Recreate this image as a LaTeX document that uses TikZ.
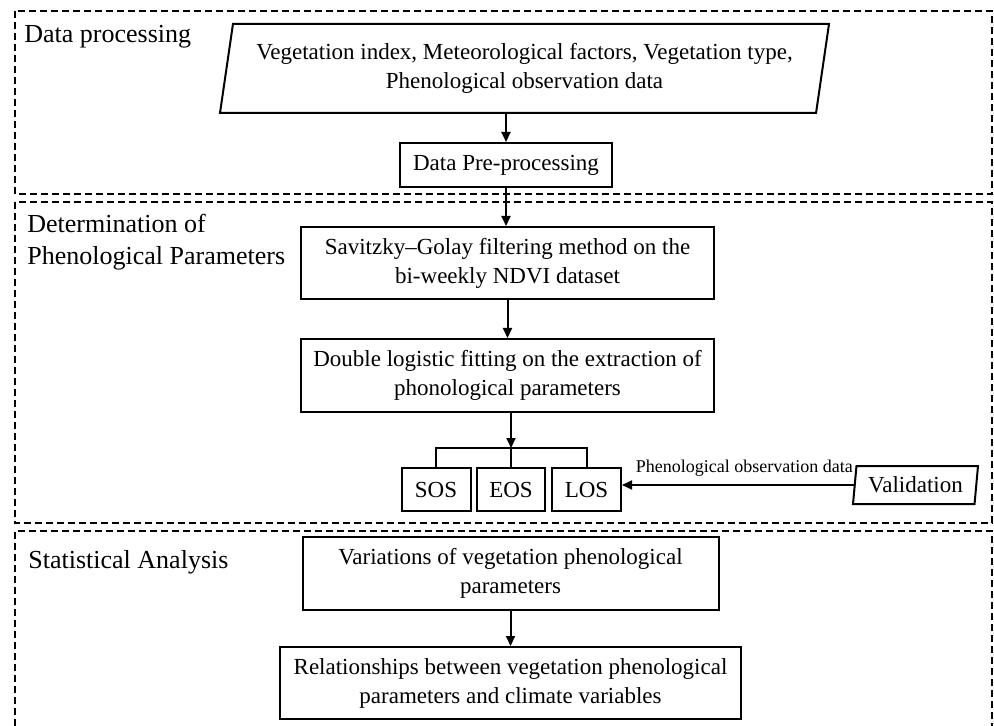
\documentclass[tikz,border=0pt]{standalone}
\usepackage{fontspec}
\setmainfont{Liberation Serif}
\usetikzlibrary{arrows.meta, positioning, shapes.geometric}

\newcommand{\boxfont}{\fontsize{11.5pt}{14.5pt}\selectfont}
\newcommand{\partfont}{\fontsize{13pt}{16pt}\selectfont}

\begin{document}
\begin{tikzpicture}[x=0.5pt,y=-0.5pt,on grid,
    >={Triangle[length=5pt,width=4.5pt]},
    flow/.style={->,line width=1pt},
    frame/.style={line width=0.6pt,dash pattern=on 3.5pt off 2pt}]
  \tikzstyle{procbox}=[rectangle,draw,line width=1pt,align=center,inner sep=0pt,font=\boxfont]
  \tikzstyle{databox}=[trapezium,trapezium stretches body,draw,line width=1pt,align=center,inner sep=0pt,font=\boxfont]
  \tikzstyle{part}=[anchor=west,align=left,inner sep=0pt,font=\partfont]
  \useasboundingbox (0,0) rectangle (994,726);

  % Frames
  \draw[frame] (15,11) rectangle (992,194);
  \draw[frame] (15,202) rectangle (992,523);
  \draw[frame] (15,726) |- (992,531) -- (992,726);

  \node[part] (lab1) at (24,37) {Data processing};
  \node[part] (lab2) at (27,242) {Determination of\\Phenological Parameters};
  \node[part] (lab3) at (28,562) {Statistical Analysis};

  % Boxes
  \node[databox, minimum width=304.5pt, minimum height=44.5pt,
        trapezium left angle=75.5, trapezium right angle=104.5] (inp) at (524.5,68.5)
        {Vegetation index, Meteorological factors, Vegetation type,\\Phenological observation data};
  \node[procbox, minimum width=106pt, minimum height=22pt] (pre) [below=48.25pt of inp, xshift=-9.25pt] {Data Pre-processing};
  \node[procbox, minimum width=206.5pt, minimum height=36pt] (sg) [below=49pt of pre, xshift=0.75pt]
        {Savitzky–Golay filtering method on the\\bi-weekly NDVI dataset};
  \node[procbox, minimum width=206.5pt, minimum height=36.5pt] (dl) [below=56.25pt of sg]
        {Double logistic fitting on the extraction of\\phonological parameters};
  \node[procbox, minimum width=34pt, minimum height=21.5pt] (eos) [below=57pt of dl, xshift=1.75pt] {EOS};
  \node[procbox, minimum width=34.5pt, minimum height=21.5pt] (sos) [left=37.5pt of eos] {SOS};
  \node[procbox, minimum width=34.5pt, minimum height=21.5pt] (los) [right=37.75pt of eos] {LOS};
  \node[databox, minimum width=62.5pt, minimum height=19pt,
        trapezium left angle=78, trapezium right angle=102] (val) [right=164.5pt of los, yshift=2.25pt] {Validation};
  \node[procbox, minimum width=208pt, minimum height=36.5pt] (var) [below=42pt of eos, xshift=-0.25pt]
        {Variations of vegetation phenological\\parameters};
  \node[procbox, minimum width=230.5pt, minimum height=36pt] (rel) [below=54.75pt of var]
        {Relationships between vegetation phenological\\parameters and climate variables};
  \coordinate[above=9.5pt of eos.north] (fork);

  % Connectors
  \draw[flow] (pre.north |- inp.south) -- (pre.north);
  \draw[flow] (pre.south) -- (pre.south |- sg.north);
  \draw[flow] (sg.south) -- (dl.north);
  \draw[flow] (dl.south -| fork) -- (fork);
  \draw[line width=1pt] (sos.north) |- (fork) -| (los.north);
  \draw[line width=1pt] (fork) -- (eos.north);
  \draw[flow] (val.west) -- node[pos=0, anchor=base east, yshift=6.5pt, inner sep=0pt,
        font=\fontsize{9pt}{11pt}\selectfont] {Phenological observation data} (val.west -| los.east);
  \draw[flow] (var.south) -- (var.south |- rel.north);
\end{tikzpicture}
\end{document}
